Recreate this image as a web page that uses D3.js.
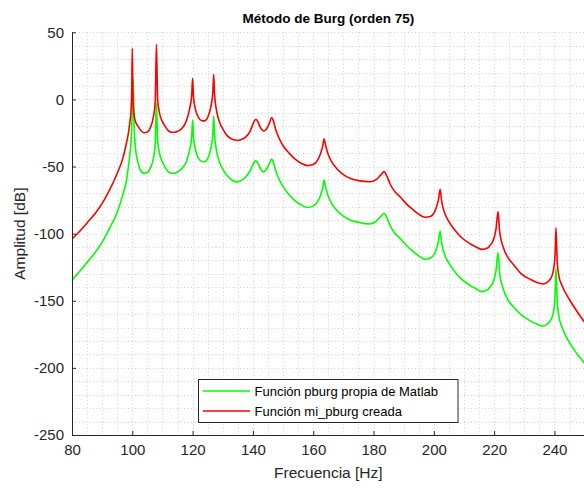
<!DOCTYPE html>
<html><head><meta charset="utf-8">
<script src="https://cdn.jsdelivr.net/npm/d3@7"></script>
<style>
html,body{margin:0;padding:0;background:#fff;}
svg{display:block;font-family:"Liberation Sans",Arial,Helvetica,sans-serif;}
</style></head>
<body>
<svg id="chart" width="584" height="488"></svg>
<script>
const title = "Método de Burg (orden 75)";
const xLabel = "Frecuencia [Hz]";
const yLabel = "Amplitud [dB]";
const seriesNames = ["Función pburg propia de Matlab", "Función mi_pburg creada"];
const xTicks = [80,100,120,140,160,180,200,220,240];
const yTicks = [50,0,-50,-100,-150,-200,-250];

const redF = [80,82,85,88,90,92,95,97,98,98.7,99.3,99.6,99.8,100,100.2,100.5,101,102,103,104,105,106,107,107.6,108,108.4,109,110,111,112,113,114,115,116,117,118,119,119.7,120,120.3,121,122,123,124,125,126,126.7,127,127.3,128,129.1,130,131.3,133,134.8,136,137.5,139,140,140.5,141,141.5,142.5,143.5,144.5,145.5,146.2,146.8,147.5,148.5,150,152,154,156,158,160,161.5,162.5,163.2,163.6,164,164.8,166,168,170,172.2,175,178.8,181,182.5,183.5,184.3,185.5,187,188.8,191,193,195,197.1,199,200.5,201.5,202.1,202.6,203.5,205,206.5,209,212,214,215.9,218,218.7,219.5,220.6,221.3,221.8,223,224.5,226.4,229,232,234,236.3,238,239.1,240,240.3,240.5,240.9,241.5,242.4,245.2,247.5,250];
const redV = [-104,-99.5,-92,-84,-77.5,-69.5,-55,-42.8,-33,-25.3,-15,-8,5,38,5,-10,-16,-20.5,-23.5,-24.8,-24.3,-21,-13,-2,41,0,-10,-16.5,-20.5,-23.5,-24.5,-24.5,-23.8,-22.5,-20,-15.5,-7,3,15.7,2,-8,-13.5,-15.8,-16,-13.5,-6,5,18.8,3,-9,-17.9,-22,-26.6,-29.5,-30.5,-30,-28.3,-24,-18.5,-16,-14.8,-16,-21,-23.5,-22,-17.5,-13.5,-16,-22,-28,-34.5,-40,-44.5,-47.5,-49.3,-48.5,-45,-40,-34,-29.3,-33,-40,-46,-52,-56,-58.8,-60.5,-61.3,-59.5,-56,-53.8,-56.5,-63,-68.5,-72.5,-78,-82,-85.5,-87.8,-87,-82.5,-75,-67,-76,-84,-91,-96,-102.5,-107.5,-110,-111.7,-110.5,-108.5,-106,-97,-83.5,-98,-110,-117.5,-123,-130,-134,-136.2,-137.5,-135.5,-132,-122,-110,-95.6,-120,-132,-138,-150,-158,-166];

const greenF = [80,82,85,88,90,92,95,97,98,98.7,99.3,99.6,99.9,100.3,100.6,101,102,102.6,104,105,106,107,107.6,108,108.4,109,110,111,112,113,114,115,116,117,118,119,119.7,120,120.3,121,122,123,124,125,126,126.7,127,127.3,128,129.1,130,131.3,133,134.8,136,137.5,139,140,140.5,141,141.5,142.5,143.5,144.5,145.5,146.2,146.8,147.5,148.5,150,152,154,156,158,160,161.5,162.5,163.2,163.6,164,164.8,166,168,170,172.2,175,178.8,181,182.5,183.5,184.3,185.5,187,188.8,191,193,195,197.1,199,200.5,201.5,202.1,202.6,203.5,205,206.5,209,212,214,215.9,218,218.7,219.5,220.6,221.3,221.8,223,224.5,226.4,229,232,234,236.3,238,239.1,240,240.3,240.5,240.9,241.5,242.4,245.2,247.5,250];
const greenV = [-134.6,-129.5,-121.5,-113,-106.5,-98,-84,-70,-61,-50.2,-39,-30.3,-15,15,-20,-35,-48,-52.4,-55,-54.5,-51,-44,-33,-3,-30,-40,-46.5,-51,-54,-55,-55,-54,-52.5,-50,-46,-38,-28,-15.3,-28,-38,-44,-46.3,-46.4,-44,-37,-26,-12.2,-27,-39,-47.7,-52,-56.4,-60,-61.4,-60.5,-58,-53.5,-48.5,-46.5,-45.7,-47,-51.5,-54,-52,-47.5,-44.4,-47,-52.5,-58.5,-65,-71,-75.5,-78.5,-80.5,-79.5,-76,-71,-65,-60,-64,-71,-77,-83,-87,-89.8,-91.5,-92.8,-90.5,-87,-84.8,-87.5,-94,-99.5,-103.5,-109,-113,-116.5,-119.1,-118,-113.5,-106,-98,-107,-115,-122,-127,-133.5,-138.5,-141,-143.2,-141.5,-139.5,-137,-128,-114.2,-129,-141,-149,-154.5,-160.5,-165,-167.2,-168.8,-166.5,-163,-153,-140,-126,-150,-162,-169,-182,-189.5,-196.5];

const svg = d3.select("#chart");
const L = 72, R = 584.6, T = 32.3, B = 435;
const x = d3.scaleLinear().domain([80,250]).range([L,R]);
const y = d3.scaleLinear().domain([-250,50]).range([B,T]);
const axisColor = "#262626";

// grid (minor + major, dotted)
const g = svg.append("g");
const xGrid = d3.range(80, 251, 5);
const yGrid = d3.range(-250, 51, 10);
g.selectAll("line.vx").data(xGrid).enter().append("line")
  .attr("x1", d => Math.round(x(d)) + 0.5).attr("x2", d => Math.round(x(d)) + 0.5)
  .attr("y1", T).attr("y2", B)
  .attr("stroke", "#d2d2d2").attr("stroke-width", 1).attr("stroke-dasharray", "1,2.5");
g.selectAll("line.hy").data(yGrid).enter().append("line")
  .attr("y1", d => Math.round(y(d)) + 0.5).attr("y2", d => Math.round(y(d)) + 0.5)
  .attr("x1", L).attr("x2", R)
  .attr("stroke", "#d2d2d2").attr("stroke-width", 1).attr("stroke-dasharray", "1,2.5");

// curves
svg.append("defs").append("clipPath").attr("id","clip")
  .append("rect").attr("x", L).attr("y", T - 2).attr("width", R - L).attr("height", B - T + 2);
const line = d3.line().x(d => x(d[0])).y(d => y(d[1])).curve(d3.curveMonotoneX);
const gData = greenF.map((f,i) => [f, greenV[i]]);
const rData = redF.map((f,i) => [f, redV[i]]);
const curves = svg.append("g").attr("clip-path","url(#clip)");
curves.append("path").attr("d", line(gData)).attr("fill","none").attr("stroke","#00ff00").attr("stroke-width",1.6).attr("stroke-linejoin","round");
curves.append("path").attr("d", line(rData)).attr("fill","none").attr("stroke","#ff0000").attr("stroke-width",1.6).attr("stroke-linejoin","round");

// axes
const fmt = d => String(d);
const xAxis = d3.axisBottom(x).tickValues(xTicks).tickSize(-4).tickPadding(9).tickFormat(fmt);
const yAxis = d3.axisLeft(y).tickValues(yTicks).tickSize(-4).tickPadding(8).tickFormat(fmt);
const gx = svg.append("g").attr("transform", `translate(0,${B})`).call(xAxis);
const gy = svg.append("g").attr("transform", `translate(${L},0)`).call(yAxis);
[gx, gy].forEach(a => {
  a.select(".domain").attr("stroke", axisColor);
  a.selectAll(".tick line").attr("stroke", axisColor);
  a.selectAll(".tick text").attr("fill", axisColor).attr("font-size", 15).attr("font-family", "Liberation Sans, Arial, sans-serif");
});
gx.select(".domain").attr("d", `M${L},0.5H${R}`);
gy.select(".domain").attr("d", `M0.5,${B}V${T}`);

// labels
svg.append("text").attr("x", (L + R) / 2).attr("y", 23).attr("text-anchor","middle")
  .attr("font-size", 13.5).attr("font-weight","bold").attr("fill","#000").text(title);
svg.append("text").attr("x", (L + R) / 2).attr("y", 478).attr("text-anchor","middle")
  .attr("font-size", 15.5).attr("fill", axisColor).text(xLabel);
svg.append("text").attr("transform", `translate(25,${(T + B) / 2}) rotate(-90)`).attr("text-anchor","middle")
  .attr("font-size", 15.5).attr("fill", axisColor).text(yLabel);

// legend
const lg = svg.append("g");
lg.append("rect").attr("x", 198.5).attr("y", 379.5).attr("width", 259.5).attr("height", 43)
  .attr("fill","#fff").attr("stroke", axisColor).attr("stroke-width", 1);
const colors = ["#00ff00", "#ff0000"];
seriesNames.forEach((n, i) => {
  const yy = 391 + i * 20;
  lg.append("line").attr("x1", 203).attr("x2", 250).attr("y1", yy).attr("y2", yy)
    .attr("stroke", colors[i]).attr("stroke-width", 1.6);
  lg.append("text").attr("x", 254.5).attr("y", yy + 4.5).attr("font-size", 13).attr("fill", "#000").text(n);
});
</script>
</body></html>
